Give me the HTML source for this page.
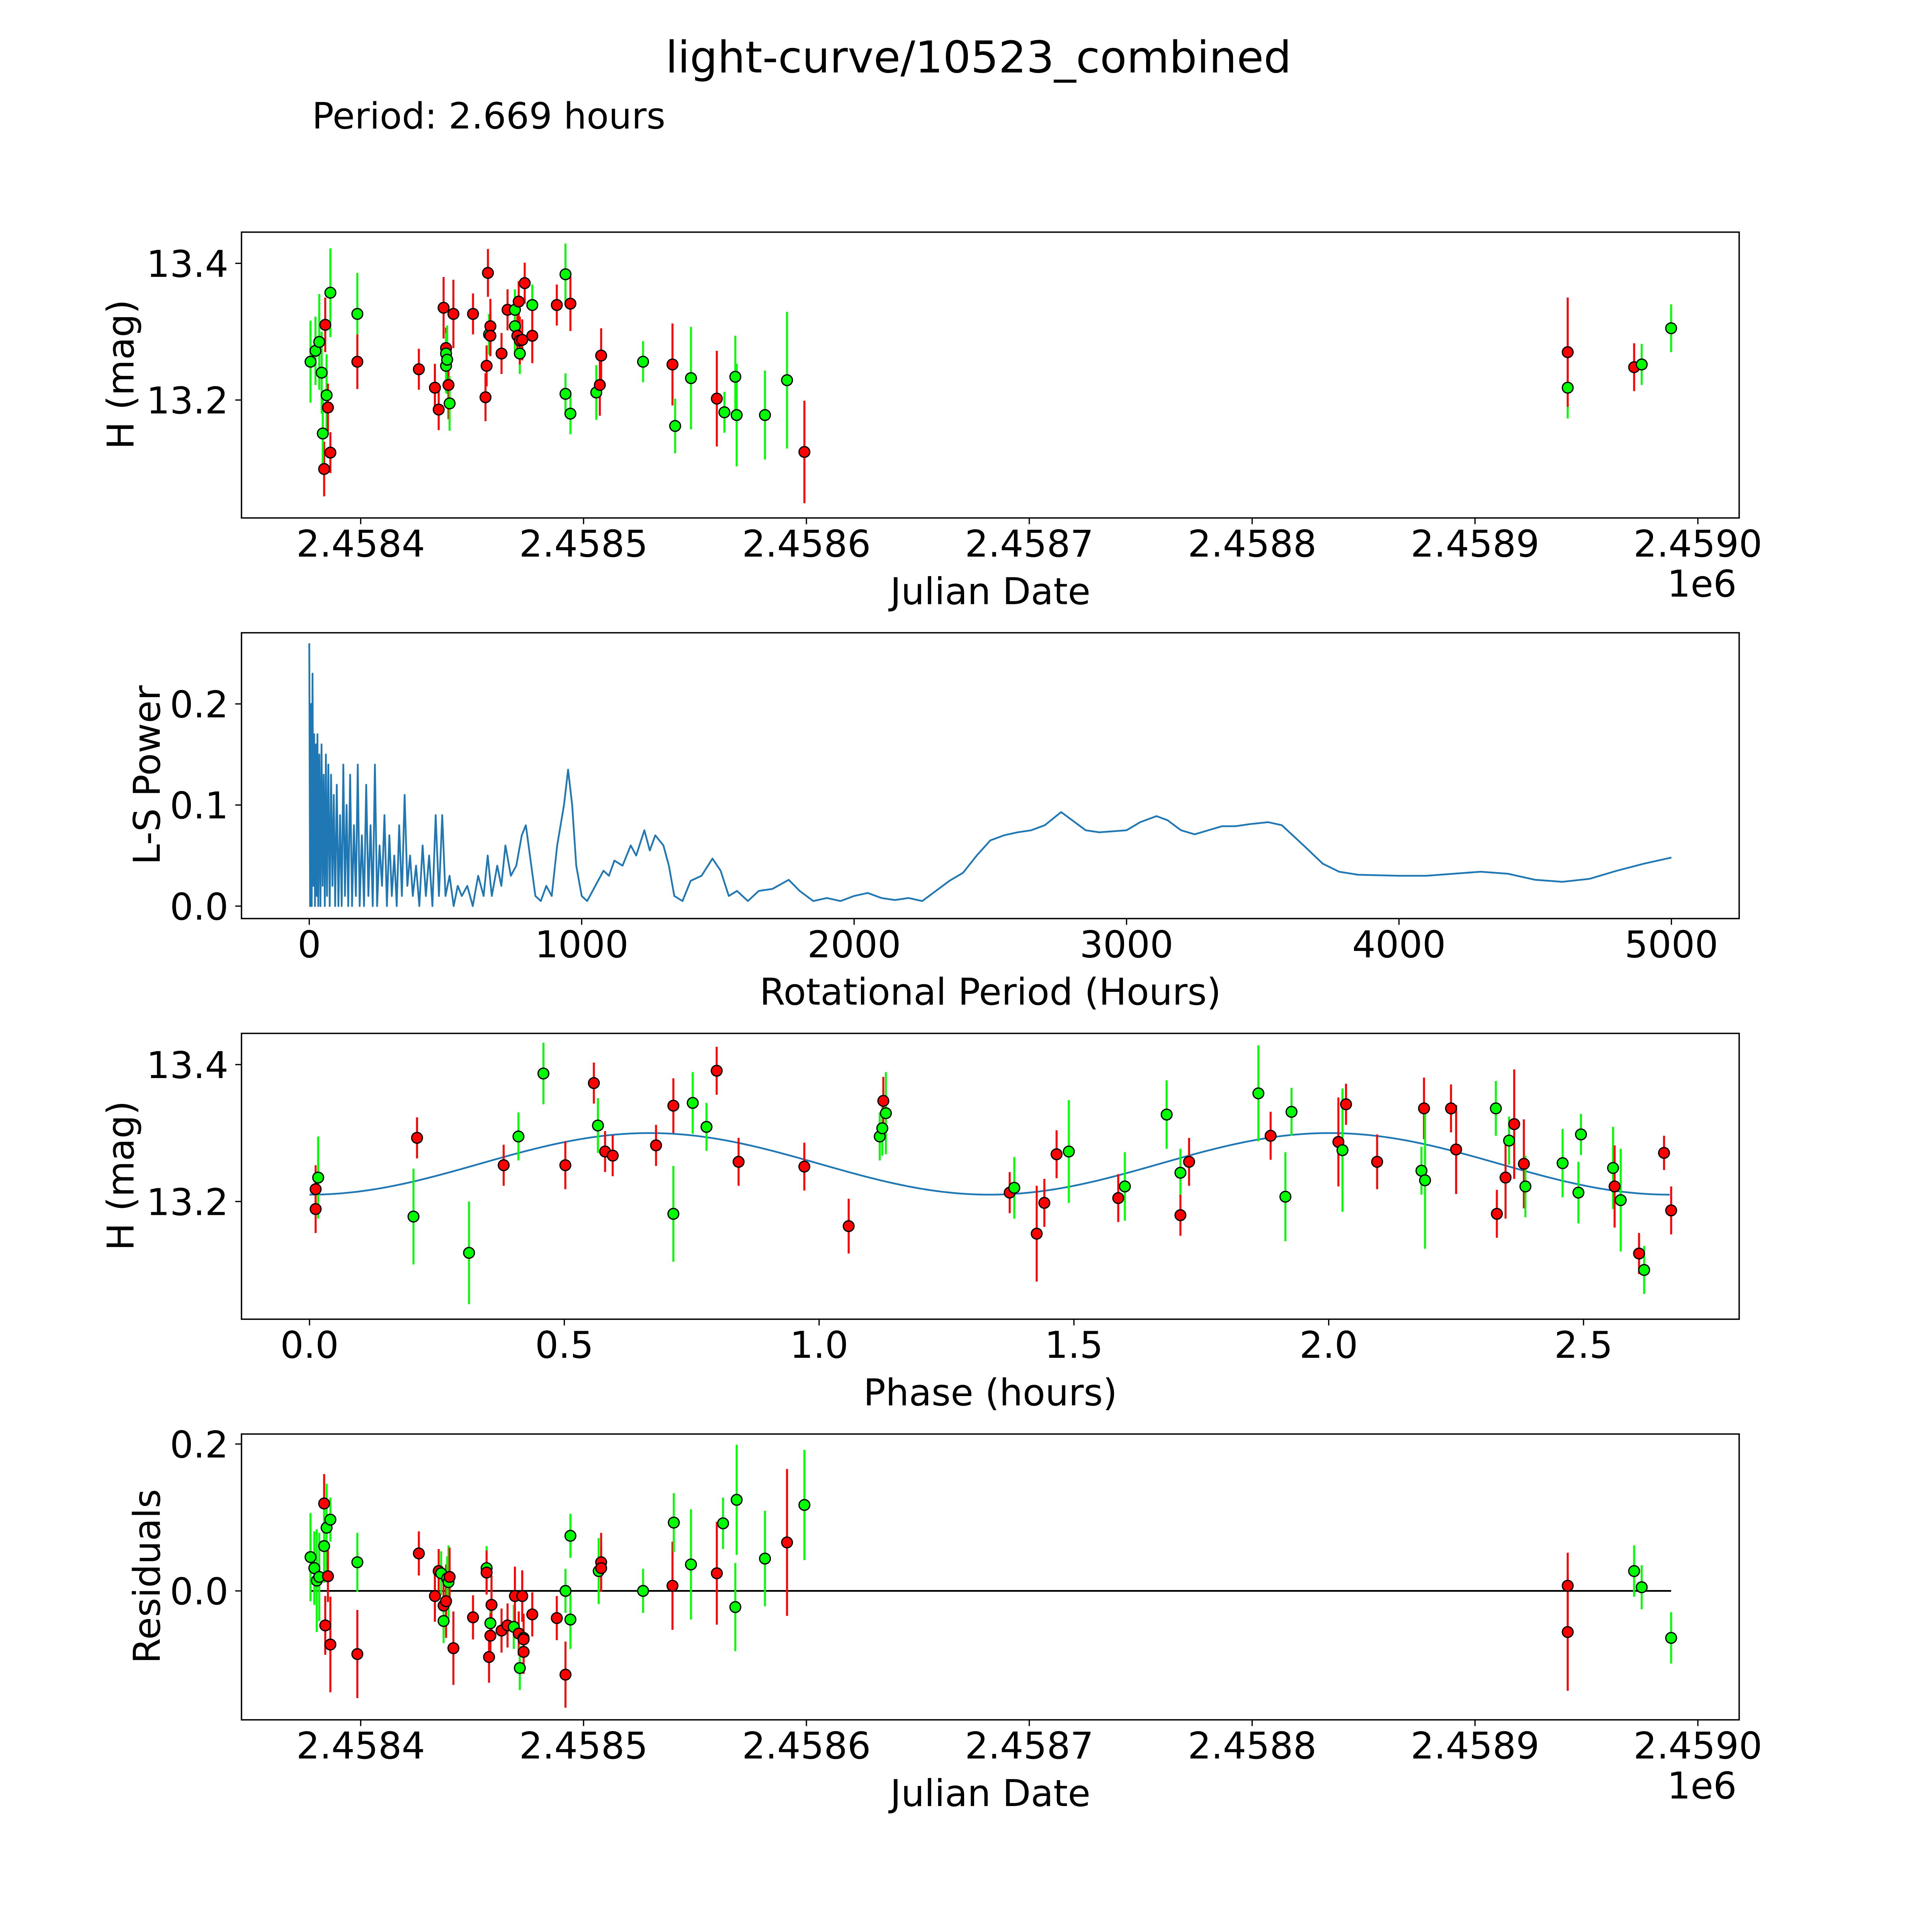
<!DOCTYPE html>
<html><head><meta charset="utf-8"><style>
html,body{margin:0;padding:0;background:#fff;overflow:hidden;width:100%;height:100%;}
svg{display:block;position:fixed;left:0;top:0;width:100vw;height:100vh;font-family:"DejaVu Sans","Liberation Sans",sans-serif;}
</style></head><body>
<svg id="chart" viewBox="0 0 1548 1548" preserveAspectRatio="none" xmlns="http://www.w3.org/2000/svg">
<rect x="0" y="0" width="1548" height="1548" fill="#fff"/>
<text x="784" y="58" font-size="35" text-anchor="middle">light-curve/10523_combined</text>
<text x="250" y="103" font-size="29">Period: 2.669 hours</text>
</svg>
<script>
// ---------- DATA ----------
// Julian Date values are stored as offsets from JD_BASE
const JD_BASE = 2457996.3;
// Panel 1: JD offsets, H magnitudes, errors, filter colour
const jd1 = [381.2,383.4,385.1,386.2,387.3,386.7,387.8,388.4,389.0,390.1,390.1,402.2,402.2,429.8,437.0,438.7,440.9,442.0,442.0,442.0,442.5,443.1,443.6,445.3,454.1,459.7,460.2,460.8,461.3,461.9,461.9,466.9,469.6,472.9,472.9,474.0,474.6,475.1,475.1,476.2,477.3,480.7,480.7,491.7,495.6,495.6,497.8,497.8,509.4,511.0,511.6,530.4,543.6,544.8,551.9,563.5,566.9,571.8,572.4,585.1,595.0,602.8,945.3,945.3,975.1,978.5,991.7];
const mag1 = [13.256,13.272,13.285,13.240,13.099,13.151,13.310,13.207,13.189,13.123,13.357,13.326,13.256,13.245,13.218,13.186,13.335,13.276,13.268,13.250,13.259,13.222,13.195,13.326,13.326,13.204,13.250,13.386,13.296,13.308,13.294,13.268,13.332,13.332,13.308,13.294,13.344,13.268,13.287,13.288,13.371,13.339,13.294,13.339,13.209,13.384,13.341,13.180,13.211,13.222,13.265,13.256,13.252,13.162,13.232,13.202,13.182,13.234,13.178,13.178,13.229,13.124,13.218,13.270,13.248,13.252,13.305];
const err1 = [0.06,0.05,0.07,0.06,0.04,0.05,0.04,0.06,0.035,0.03,0.065,0.06,0.04,0.03,0.035,0.03,0.045,0.03,0.03,0.04,0.05,0.05,0.04,0.05,0.03,0.035,0.03,0.035,0.03,0.04,0.03,0.03,0.03,0.03,0.04,0.03,0.03,0.03,0.035,0.03,0.03,0.03,0.04,0.03,0.03,0.045,0.04,0.03,0.04,0.045,0.04,0.03,0.06,0.04,0.075,0.07,0.03,0.06,0.075,0.065,0.1,0.075,0.045,0.08,0.035,0.03,0.035];
const col1 = "gggg rgrgr rggrr rrrrg ggrgr rrrrg rrrrg grrgr rrgrr ggrgg rrgrg grggg ggrgr rg".replace(/ /g,'');
// Panel 2: Lomb-Scargle periodogram
const lsPeriod = [0,3,6,9,12,15,18,21,24,27,30,33,37,41,45,49,53,57,61,65,70,75,80,85,90,95,101,107,113,119,125,131,137,143,150,157,164,171,178,185,193,201,209,217,225,233,241,249,258,267,276,285,294,303,312,321,330,340,350,360,370,380,392,404,416,428,440,452,464,476,488,500,515,530,545,560,580,600,620,640,655,670,690,705,720,740,760,780,795,810,830,850,870,890,910,935,950,965,980,1000,1020,1050,1080,1100,1120,1150,1180,1200,1230,1250,1270,1300,1320,1340,1370,1400,1440,1480,1510,1540,1570,1610,1650,1700,1760,1800,1850,1900,1950,2000,2050,2100,2150,2200,2250,2300,2350,2400,2450,2500,2550,2600,2650,2700,2760,2800,2850,2900,2950,3000,3050,3110,3150,3200,3250,3300,3350,3400,3450,3520,3570,3650,3720,3780,3850,4000,4100,4300,4400,4500,4600,4700,4800,4900,5000];
const lsPower = [0.26,0,0.20,0,0.23,0.02,0.17,0,0.16,0.01,0.17,0,0.15,0,0.16,0.02,0.13,0,0.15,0.01,0.14,0,0.13,0.02,0.11,0,0.12,0,0.09,0,0.14,0.01,0.10,0,0.13,0,0.08,0.01,0.14,0,0.07,0,0.12,0.01,0.08,0,0.14,0,0.06,0.02,0.09,0,0.07,0.01,0.05,0,0.08,0.01,0.11,0.02,0.05,0.01,0.04,0,0.06,0.01,0.05,0,0.09,0.01,0.09,0.01,0.03,0,0.02,0.01,0.02,0,0.03,0.01,0.05,0.01,0.04,0.02,0.06,0.03,0.04,0.07,0.08,0.05,0.01,0.005,0.02,0.01,0.06,0.1,0.135,0.1,0.04,0.01,0.005,0.02,0.035,0.03,0.045,0.04,0.06,0.05,0.075,0.055,0.07,0.06,0.04,0.01,0.005,0.025,0.03,0.047,0.035,0.01,0.015,0.005,0.015,0.017,0.026,0.015,0.005,0.008,0.005,0.01,0.013,0.008,0.006,0.008,0.005,0.015,0.025,0.033,0.05,0.065,0.07,0.073,0.075,0.08,0.093,0.085,0.075,0.073,0.074,0.075,0.083,0.089,0.085,0.075,0.071,0.075,0.079,0.079,0.081,0.083,0.08,0.06,0.042,0.034,0.031,0.030,0.030,0.034,0.032,0.026,0.024,0.027,0.035,0.042,0.048];
// Panel 3: phase-folded data
const phase3 = [0.017,0.012,0.012,0.211,0.204,0.313,0.381,0.410,0.459,0.502,0.558,0.566,0.580,0.595,0.680,0.714,0.714,0.752,0.779,0.799,0.842,0.971,1.058,1.119,1.124,1.126,1.131,1.374,1.383,1.427,1.442,1.466,1.490,1.587,1.600,1.682,1.709,1.709,1.726,1.862,1.886,1.927,1.915,2.019,2.027,2.034,2.095,2.182,2.187,2.189,2.240,2.250,2.330,2.328,2.347,2.354,2.364,2.383,2.386,2.459,2.490,2.495,2.558,2.561,2.573,2.609,2.619,2.658,2.672];
const mag3 = [13.235,13.218,13.189,13.293,13.178,13.125,13.253,13.295,13.387,13.253,13.373,13.311,13.273,13.267,13.282,13.182,13.340,13.344,13.309,13.391,13.258,13.251,13.164,13.295,13.307,13.347,13.329,13.213,13.220,13.153,13.198,13.269,13.273,13.205,13.222,13.327,13.242,13.180,13.258,13.358,13.296,13.331,13.207,13.287,13.275,13.342,13.258,13.245,13.336,13.231,13.336,13.276,13.182,13.336,13.235,13.289,13.313,13.255,13.222,13.256,13.213,13.298,13.249,13.222,13.202,13.124,13.100,13.271,13.187];
const err3 = [0.06,0.035,0.035,0.03,0.07,0.075,0.03,0.035,0.045,0.035,0.03,0.04,0.03,0.03,0.03,0.07,0.04,0.045,0.035,0.035,0.035,0.035,0.04,0.035,0.04,0.035,0.06,0.03,0.045,0.07,0.035,0.035,0.075,0.035,0.05,0.05,0.035,0.03,0.035,0.07,0.035,0.035,0.065,0.065,0.09,0.03,0.04,0.035,0.045,0.1,0.035,0.065,0.035,0.04,0.06,0.035,0.08,0.065,0.045,0.05,0.045,0.03,0.06,0.06,0.075,0.03,0.035,0.025,0.035];
const col3 = "grrrg grggr rgrrr grggr rrrgg rgrgr rrgrg ggrrg rggrg rrgrg rrrgr grrgg gggrg rgrrr r".replace(/ /g,'');
// Sine model fit (mean, semi-amplitude, model period in hours)
const fitMean = 13.255, fitAmp = 0.045, fitPeriod = 1.3345, fitMaxPhase = 2.669;
// Panel 4: residuals
const jd4 = [381.2,382.9,384.0,385.1,387.3,387.3,387.8,388.4,389.0,390.1,390.1,402.2,402.2,429.8,437.0,438.7,439.8,440.9,440.9,442.0,442.5,443.1,443.6,445.3,454.1,460.2,460.2,461.3,461.9,462.4,461.9,466.9,469.6,472.4,472.9,474.6,475.1,476.2,476.8,476.8,476.8,480.7,491.7,495.6,495.6,497.8,497.8,510.5,511.6,511.6,530.4,543.6,544.2,551.9,563.5,566.3,571.8,572.4,585.1,595.0,602.8,945.3,945.3,975.1,978.5,991.7];
const res4 = [0.046,0.031,0.014,0.019,0.119,0.061,-0.047,0.086,0.020,0.097,-0.073,0.039,-0.086,0.051,-0.007,0.027,0.024,-0.020,-0.041,-0.014,0.017,0.012,0.019,-0.078,-0.036,0.031,0.025,-0.090,-0.044,-0.019,-0.061,-0.054,-0.047,-0.049,-0.007,-0.058,-0.105,-0.007,-0.083,-0.064,-0.066,-0.032,-0.037,0,-0.114,0.075,-0.039,0.027,0.039,0.031,0,0.007,0.093,0.036,0.024,0.092,-0.022,0.124,0.044,0.066,0.117,0.007,-0.056,0.027,0.005,-0.064];
const err4 = [0.06,0.05,0.07,0.06,0.04,0.05,0.04,0.06,0.035,0.03,0.065,0.04,0.06,0.03,0.035,0.03,0.03,0.04,0.03,0.05,0.03,0.05,0.04,0.05,0.03,0.03,0.03,0.035,0.03,0.04,0.03,0.03,0.03,0.03,0.04,0.03,0.03,0.035,0.03,0.03,0.035,0.03,0.03,0.03,0.045,0.03,0.04,0.045,0.04,0.03,0.03,0.06,0.04,0.075,0.07,0.035,0.06,0.075,0.065,0.1,0.075,0.045,0.08,0.035,0.03,0.035];
const col4 = "ggggr grgrg rgrrr rgrgr ggrrr grrgr rrrgr rgrrg rrrgr gggrr grggr ggggr grrg".replace(/ /g,'');
// Axis ticks
const jdTicks = [2458400,2458500,2458600,2458700,2458800,2458900,2459000];
const jdTickLabels = ["2.4584","2.4585","2.4586","2.4587","2.4588","2.4589","2.4590"];
const magTicks = [13.2,13.4];
const magTickLabels = ["13.2","13.4"];
const lsXTicks = [0,1000,2000,3000,4000,5000];
const lsYTicks = [0,0.1,0.2];
const lsYTickLabels = ["0.0","0.1","0.2"];
const phaseTicks = [0,0.5,1,1.5,2,2.5];
const phaseTickLabels = ["0.0","0.5","1.0","1.5","2.0","2.5"];
const resTicks = [0,0.2];
const resTickLabels = ["0.0","0.2"];

// ---------- DRAW ----------
const NS = "http://www.w3.org/2000/svg";
const svg = document.getElementById('chart');
function el(tag, attrs, parent){ const e=document.createElementNS(NS,tag); for(const k in attrs) e.setAttribute(k,attrs[k]); (parent||svg).appendChild(e); return e; }
function lin(d0,d1,r0,r1){ return v => r0+(v-d0)*(r1-r0)/(d1-d0); }
const L=193.5, R=1393.5, CX=(L+R)/2;
const xJD = lin(2458400,2459000,289.0,1360.4);
const xLS = lin(0,5000,247.8,1339.2);
const xPh = lin(0,2.672,248,1339);
const y1 = lin(13.4,13.2,211,320.5);
const y2 = lin(0,0.1,726,645);
const y3 = lin(13.4,13.2,853,962.7);
const y4 = lin(0,0.2,1274.7,1157);

function frame(name, top, bottom){
  const r = el('rect',{x:L,y:top,width:R-L,height:bottom-top,fill:'none',stroke:'#000','stroke-width':1.1});
  
  
}
function xTicks(vals, labels, sx, bottom, prefix){
  vals.forEach((v,i)=>{
    const x=sx(v);
    el('line',{x1:x,x2:x,y1:bottom,y2:bottom+5,stroke:'#000','stroke-width':1});
    const t=el('text',{x:x,y:bottom+31,'font-size':29.5,'text-anchor':'middle'});
    t.textContent=labels[i];
    
    
  });
}
function yTicks(vals, labels, sy, prefix){
  vals.forEach((v,i)=>{
    const y=sy(v);
    el('line',{x1:L-5,x2:L,y1:y,y2:y,stroke:'#000','stroke-width':1});
    const t=el('text',{x:L-10.5,y:y+10.8,'font-size':29.5,'text-anchor':'end'});
    t.textContent=labels[i];
    
    
  });
}
function label(txt, x, y, rot, name){
  const t=el('text',{x:x,y:y,'font-size':29.5,'text-anchor':'middle',transform:rot?`rotate(-90 ${x} ${y})`:''});
  t.textContent=txt;
  
  
}
function points(xs, ys, es, cols, sx, sy, name){
  const g=el('g',{});
  
  
  xs.forEach((v,i)=>{
    const c = cols[i]==='r' ? '#ff0000' : '#00ff00';
    const x=sx(v), ya=sy(ys[i]-es[i]), yb=sy(ys[i]+es[i]);
    el('line',{x1:x,x2:x,y1:ya,y2:yb,stroke:c,'stroke-width':1.6},g);
  });
  xs.forEach((v,i)=>{
    const c = cols[i]==='r' ? '#ff0000' : '#00ff00';
    const p=el('circle',{cx:sx(v),cy:sy(ys[i]),r:4.3,fill:c,stroke:'#000','stroke-width':1},g);
    
    
  });
}
function offsetText(y, name){
  const t=el('text',{x:R-2,y:y,'font-size':29.5,'text-anchor':'end'});
  t.textContent='1e6';
  
  
}

// Panel 1
frame('lightcurve-plot-area',186,415);
xTicks(jdTicks,jdTickLabels,xJD,415,'lightcurve');
yTicks(magTicks,magTickLabels,y1,'lightcurve');
label('Julian Date',CX,484,false,'lightcurve-x-axis-title');
label('H (mag)',107,300,true,'lightcurve-y-axis-title');
offsetText(478,'lightcurve-x-offset-text');
points(jd1.map(v=>v+JD_BASE),mag1,err1,col1,xJD,y1,'lightcurve-points');

// Panel 2
frame('periodogram-plot-area',507,736);
xTicks(lsXTicks,lsXTicks.map(String),xLS,736,'periodogram');
yTicks(lsYTicks,lsYTickLabels,y2,'periodogram');
label('Rotational Period (Hours)',CX,805,false,'periodogram-x-axis-title');
label('L-S Power',128,621,true,'periodogram-y-axis-title');
const lsLine = el('polyline',{points:lsPeriod.map((p,i)=>xLS(p)+','+y2(lsPower[i])).join(' '),fill:'none',stroke:'#1f77b4','stroke-width':1.4,'stroke-linejoin':'round'});



// Panel 3
frame('phase-plot-area',828,1057);
xTicks(phaseTicks,phaseTickLabels,xPh,1057,'phase');
yTicks(magTicks,magTickLabels,y3,'phase');
label('Phase (hours)',CX,1126,false,'phase-x-axis-title');
label('H (mag)',107,942,true,'phase-y-axis-title');
const fitPts=[];
for(let i=0;i<=200;i++){ const ph=fitMaxPhase*i/200; fitPts.push(xPh(ph)+','+y3(fitMean-fitAmp*Math.cos(2*Math.PI*ph/fitPeriod))); }
const fit=el('polyline',{points:fitPts.join(' '),fill:'none',stroke:'#1f77b4','stroke-width':1.4});


points(phase3,mag3,err3,col3,xPh,y3,'phase-points');

// Panel 4
frame('residuals-plot-area',1149,1378);
xTicks(jdTicks,jdTickLabels,xJD,1378,'residuals');
yTicks(resTicks,resTickLabels,y4,'residuals');
label('Julian Date',CX,1447,false,'residuals-x-axis-title');
label('Residuals',128,1263,true,'residuals-y-axis-title');
offsetText(1441,'residuals-x-offset-text');
const zl=el('line',{x1:xJD(jd4[0]+JD_BASE),x2:xJD(jd4[jd4.length-1]+JD_BASE),y1:y4(0),y2:y4(0),stroke:'#000','stroke-width':1.4});


points(jd4.map(v=>v+JD_BASE),res4,err4,col4,xJD,y4,'residual-points');
</script>
</body></html>
